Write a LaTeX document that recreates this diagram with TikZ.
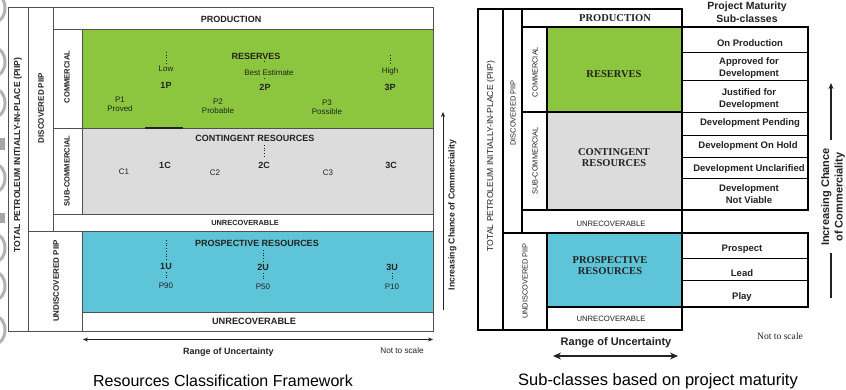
\documentclass[tikz,border=0pt]{standalone}
\usepackage{fontspec}
\setmainfont{Liberation Sans}
\newfontfamily\serifrm{Liberation Serif}
\usetikzlibrary{arrows.meta}
\newcommand\fsz[2]{\fontsize{#1}{#2}\selectfont}
\definecolor{lgreen}{HTML}{8CC63F}
\definecolor{lgrey}{HTML}{DCDCDC}
\definecolor{lblue}{HTML}{5EC5D8}
\definecolor{lline}{HTML}{505050}
\definecolor{ink}{HTML}{222222}
\tikzset{
  lbox/.style={draw=lline, line width=0.7pt},
  rbox/.style={draw=black, line width=1.1pt},
  t/.style={inner sep=0pt, outer sep=0pt, text=ink},
  tb/.style={t, font=\bfseries\fsz{9}{10}},
  tr/.style={t, font=\fsz{8}{9.5}, align=center},
  trot/.style={t, rotate=90},
  dotl/.style={dotted, line width=0.7pt, draw=ink},
  sbold/.style={t, font=\bfseries\fsz{9.5}{12}, align=center},
  serb/.style={t, font=\serifrm\bfseries\fsz{10.5}{11}, align=center},
  arr/.style={draw=ink, line width=0.8pt, -{Stealth[length=5pt,width=4pt]}},
}
\begin{document}
\begin{tikzpicture}[x=1pt,y=-1pt]
\useasboundingbox (0,0) rectangle (846,390);
\fill[white] (0,0) rectangle (846,390);
% cropped grey shapes at the left edge
\begin{scope}
\clip (0,0) rectangle (7,390);
\foreach \yy in {8,62,103,178,248,286,330}
  \draw[gray!60, line width=3pt] (-5,\yy) ellipse (10 and 14);
\fill[gray!70] (0,138) rectangle (5,150);
\fill[gray!70] (0,213) rectangle (5,223);
\end{scope}

% ================= LEFT DIAGRAM =================
\fill[lgreen] (82,29) rectangle (433,128);
\fill[lgrey] (82,128) rectangle (433,214);
\fill[lblue] (82,231) rectangle (433,312);
\draw[lbox] (8,7) rectangle (433,331);
\draw[lbox] (28,7) -- (28,331);
\draw[lbox] (53,7) -- (53,231);
\draw[lbox] (53,29) -- (433,29);
\draw[lbox] (82,29) -- (82,214);
\draw[lbox] (53,128) -- (433,128);
\draw[lbox] (53,214) -- (433,214);
\draw[lbox] (28,231) -- (433,231);
\draw[lbox] (82,231) -- (82,331);
\draw[lbox] (82,312) -- (433,312);
\draw[line width=1.3pt, ink] (145,128) -- (183,128);

\node[trot, font=\bfseries\fsz{8.6}{10}] (ltot) at (18,155) {TOTAL PETROLEUM INITIALLY-IN-PLACE (PIIP)};
\node[trot, font=\bfseries\fsz{8}{9}] (ldisc) at (41,108) {DISCOVERED PIIP};
\node[trot, font=\bfseries\fsz{7.6}{9}] (lcom) at (67,77) {COMMERCIAL};
\node[trot, font=\bfseries\fsz{7.6}{9}] (lsub) at (67,171) {SUB-COMMERCIAL};
\node[trot, font=\bfseries\fsz{8}{9}] (lund) at (56,281) {UNDISCOVERED PIIP};

\node[tb] (lprod) at (231,19) {PRODUCTION};
\node[tb] (lres) at (256,56) {RESERVES};
\node[tr] (lbest) at (269,73) {Best Estimate};
\node[tb] (l2p) at (265,87) {2P};
\coordinate (d2a) at (264,61.5); \coordinate (d2b) at (264,62.5);
\draw[dotl] (d2a) -- (d2b);
\coordinate (d2c) at (264,78.5); \coordinate (d2d) at (264,80);
\draw[dotl] (d2c) -- (d2d);
\node[tr] (llow) at (166,69) {Low};
\node[tb] (l1p) at (166,85) {1P};
\coordinate (dla) at (166,52); \coordinate (dlb) at (166,63);
\draw[dotl] (dla) -- (dlb);
\node[tr] (lhigh) at (390,71) {High};
\node[tb] (l3p) at (390,87) {3P};
\coordinate (dha) at (390,55); \coordinate (dhb) at (390,64);
\draw[dotl] (dha) -- (dhb);
\node[tr] (lp1) at (120,104.5) {P1\\Proved};
\node[tr] (lp2) at (218,106) {P2\\Probable};
\node[tr] (lp3) at (327,107) {P3\\Possible};

\node[tb] (lcont) at (255,138) {CONTINGENT RESOURCES};
\node[tb] (l2c) at (264,165) {2C};
\coordinate (dca) at (264,145); \coordinate (dcb) at (264,157.5);
\draw[dotl] (dca) -- (dcb);
\node[tb] (l1c) at (165,165) {1C};
\node[tb] (l3c) at (391,165) {3C};
\node[tr] (lc1) at (124,172) {C1};
\node[tr] (lc2) at (215,173) {C2};
\node[tr] (lc3) at (328,173) {C3};

\node[t, font=\bfseries\fsz{7.4}{9}] (lunr1) at (245,222.5) {UNRECOVERABLE};

\node[tb] (lpros) at (257,243) {PROSPECTIVE RESOURCES};
\node[tb] (l1u) at (166,266) {1U};
\node[tb] (l2u) at (263,267) {2U};
\node[tb] (l3u) at (392,267) {3U};
\node[tr] (lp90) at (166,286) {P90};
\node[tr] (lp50) at (263,287) {P50};
\node[tr] (lp10) at (392,287) {P10};
\coordinate (u1a) at (166,240); \coordinate (u1b) at (166,260);
\coordinate (u1c) at (166,272); \coordinate (u1d) at (166,278);
\draw[dotl] (u1a) -- (u1b); \draw[dotl] (u1c) -- (u1d);
\coordinate (u2a) at (263,250); \coordinate (u2b) at (263,261);
\coordinate (u2c) at (263,273); \coordinate (u2d) at (263,280);
\draw[dotl] (u2a) -- (u2b); \draw[dotl] (u2c) -- (u2d);
\coordinate (u3c) at (392,273); \coordinate (u3d) at (392,279);
\draw[dotl] (u3c) -- (u3d);

\node[t, font=\bfseries\fsz{9.2}{10}] (lunr2) at (254,321.5) {UNRECOVERABLE};

\coordinate (lra) at (83,339.5); \coordinate (lrb) at (433,339.5);
\draw[draw=ink, line width=0.8pt, {Stealth[length=5pt,width=4pt]}-{Stealth[length=5pt,width=4pt]}] (lra) -- (lrb);
\node[t, font=\bfseries\fsz{9}{10}] (lrange) at (228.5,352) {Range of Uncertainty};
\node[t, font=\fsz{8.2}{10}] (lnts) at (402,351) {Not to scale};

\coordinate (lia) at (443,310); \coordinate (lib) at (443,112);
\draw[arr] (lia) -- (lib);
\node[trot, font=\bfseries\fsz{8.7}{10}] (linc) at (452.5,215) {Increasing Chance of Commerciality};

% ================= RIGHT DIAGRAM =================
\fill[lgreen] (547,27) rectangle (682,112);
\fill[lgrey] (547,112) rectangle (682,210);
\fill[lblue] (547,233) rectangle (682,307);
\draw[rbox] (478,9) rectangle (682,330);
\draw[rbox] (503,9) -- (503,330);
\draw[rbox] (522,9) -- (522,233);
\draw[rbox] (522,27) -- (682,27);
\draw[rbox] (547,27) -- (547,210);
\draw[rbox] (522,112) -- (682,112);
\draw[rbox] (522,210) -- (808,210);
\draw[rbox] (503,233) -- (808,233);
\draw[rbox] (547,233) -- (547,330);
\draw[rbox] (547,307) -- (808,307);
\draw[rbox] (682,27) rectangle (808,210);
\draw[rbox] (682,233) rectangle (808,307);
\foreach \yy in {52,80,112,135,157,178} \draw[draw=black, line width=0.8pt] (682,\yy) -- (808,\yy);
\foreach \yy in {258,280} \draw[draw=black, line width=0.8pt] (682,\yy) -- (808,\yy);

\node[trot, font=\fsz{8.6}{10}] (rtot) at (491,156) {TOTAL PETROLEUM INITIALLY-IN-PLACE (PIIP)};
\node[trot, font=\fsz{7.4}{9}] (rdisc) at (513,113) {DISCOVERED PIIP};
\node[trot, font=\fsz{7.4}{9}] (rcom) at (535,72) {COMMERCIAL};
\node[trot, font=\fsz{7.4}{9}] (rsub) at (535,161) {SUB-COMMERCIAL};
\node[trot, font=\fsz{7.4}{9}] (rund) at (525,281) {UNDISCOVERED PIIP};

\node[serb] (rprod) at (615,18) {PRODUCTION};
\node[serb] (rres) at (614,74) {RESERVES};
\node[serb] (rcont) at (614,158) {CONTINGENT\\RESOURCES};
\node[serb] (rpros) at (610,266) {PROSPECTIVE\\RESOURCES};
\node[t, font=\fsz{7.7}{9}] (runr1) at (611,224) {UNRECOVERABLE};
\node[t, font=\fsz{7.7}{9}] (runr2) at (611,319) {UNRECOVERABLE};

\node[t, font=\bfseries\fsz{10.5}{13}, align=center] (rpm) at (747,12.5) {Project Maturity\\Sub-classes};
\node[sbold] (s1) at (750,43) {On Production};
\node[sbold] (s2) at (749,68.5) {Approved for\\Development};
\node[sbold] (s3) at (749,99) {Justified for\\Development};
\node[sbold] (s4) at (750,123.5) {Development Pending};
\node[sbold] (s5) at (748,146.5) {Development On Hold};
\node[sbold] (s6) at (749,169) {Development Unclarified};
\node[sbold] (s7) at (749,194.5) {Development\\Not Viable};
\node[sbold] (s8) at (742,249) {Prospect};
\node[sbold] (s9) at (742,273) {Lead};
\node[sbold] (s10) at (742,297) {Play};

\node[t, font=\serifrm\fsz{9.6}{11}] (rnts) at (780,336) {Not to scale};
\node[t, font=\bfseries\fsz{11}{12}] (rrange) at (616,343) {Range of Uncertainty};
\coordinate (rra) at (553,356); \coordinate (rrb) at (678,356);
\draw[draw=ink, line width=1.4pt, {Stealth[length=8pt,width=7pt]}-{Stealth[length=8pt,width=7pt]}] (rra) -- (rrb);

\node[trot, font=\bfseries\fsz{11}{13.5}, align=center] (rinc) at (833,197) {Increasing Chance\\of Commerciality};
\coordinate (ria) at (831,140); \coordinate (rib) at (831,83);
\draw[draw=ink, line width=1.1pt, -{Stealth[length=6pt,width=5pt]}] (ria) -- (rib);
\coordinate (ric) at (831,253); \coordinate (rid) at (831,298);
\draw[draw=ink, line width=1.1pt] (ric) -- (rid);

% ================= CAPTIONS =================
\node[t, text=black, font=\fsz{16}{18}] (cap1) at (223,381) {Resources Classification Framework};
\node[t, text=black, font=\fsz{16.5}{18}] (cap2) at (658,381) {Sub-classes based on project maturity};
\end{tikzpicture}
\end{document}
